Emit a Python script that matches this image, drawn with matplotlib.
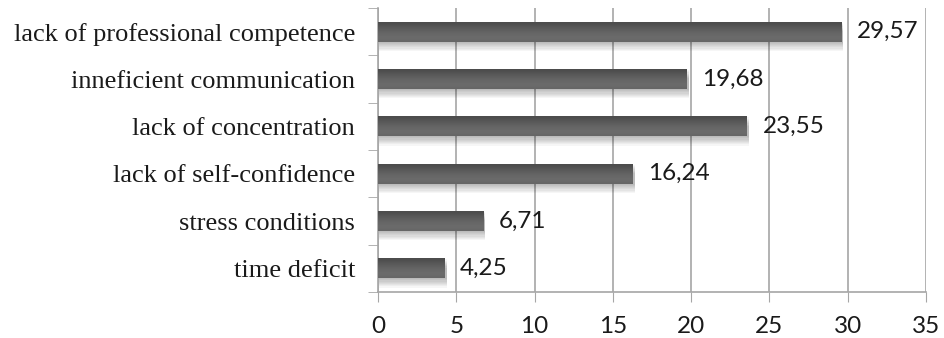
import numpy as np
import matplotlib.pyplot as plt
from matplotlib.patches import Rectangle

categories = ["time deficit", "stress conditions", "lack of self-confidence",
              "lack of concentration", "inneficient communication",
              "lack of professional competence"]
values = [4.25, 6.71, 16.24, 23.55, 19.68, 29.57]
value_labels = ["4,25", "6,71", "16,24", "23,55", "19,68", "29,57"]
x_ticks = [0, 5, 10, 15, 20, 25, 30, 35]

fig = plt.figure(figsize=(9.44, 3.38), dpi=100)
ax = fig.add_axes([0.4004, 0.136, 0.5806, 0.840])

bar_h = 0.42
grid_c = "#a6a6a6"

# vertical shade for the cylinder look: light core, darker edges
shade = np.array([0.40, 0.42, 0.42, 0.41, 0.40, 0.38, 0.36, 0.34, 0.32, 0.30])[:, None]

for i, v in enumerate(values):
    y0 = i - bar_h / 2
    # soft drop shadow underneath
    for k in range(8):
        ax.add_patch(Rectangle((0.05, y0 - 0.02 - k * 0.025), v + 0.1, bar_h,
                               facecolor="black", alpha=0.035, linewidth=0, zorder=2))
    ax.imshow(shade, cmap="gray", vmin=0, vmax=1, aspect="auto",
              extent=(0, v, y0 + bar_h, y0), zorder=3, interpolation="bicubic")
    ax.text(v + 1.0, i, value_labels[i], va="center", ha="left",
            fontsize=17.5, family="Lato", color="#1a1a1a", zorder=4)

ax.set_xlim(0, 35)
ax.set_ylim(-0.5, len(categories) - 0.5)

ax.set_xticks(x_ticks)
ax.set_xticklabels([str(t) for t in x_ticks], fontsize=17.5, family="Lato", color="#1a1a1a")
ax.set_yticks(range(len(categories)))
ax.set_yticklabels(categories, fontsize=19, family="Liberation Serif", color="#1a1a1a")
ax.tick_params(axis="y", length=0, pad=16.5)
ax.set_yticks(np.arange(-0.5, len(categories), 1), minor=True)
ax.tick_params(axis="y", which="minor", length=7, color=grid_c, direction="out")
ax.tick_params(axis="x", length=7, color=grid_c, direction="out", pad=10)

ax.grid(axis="x", color=grid_c, linewidth=1.2, zorder=1)
ax.set_axisbelow(True)
for side in ["top", "right"]:
    ax.spines[side].set_visible(False)
for side in ["left", "bottom"]:
    ax.spines[side].set_color(grid_c)
    ax.spines[side].set_linewidth(1.2)

fig.savefig("out.png", dpi=100)
